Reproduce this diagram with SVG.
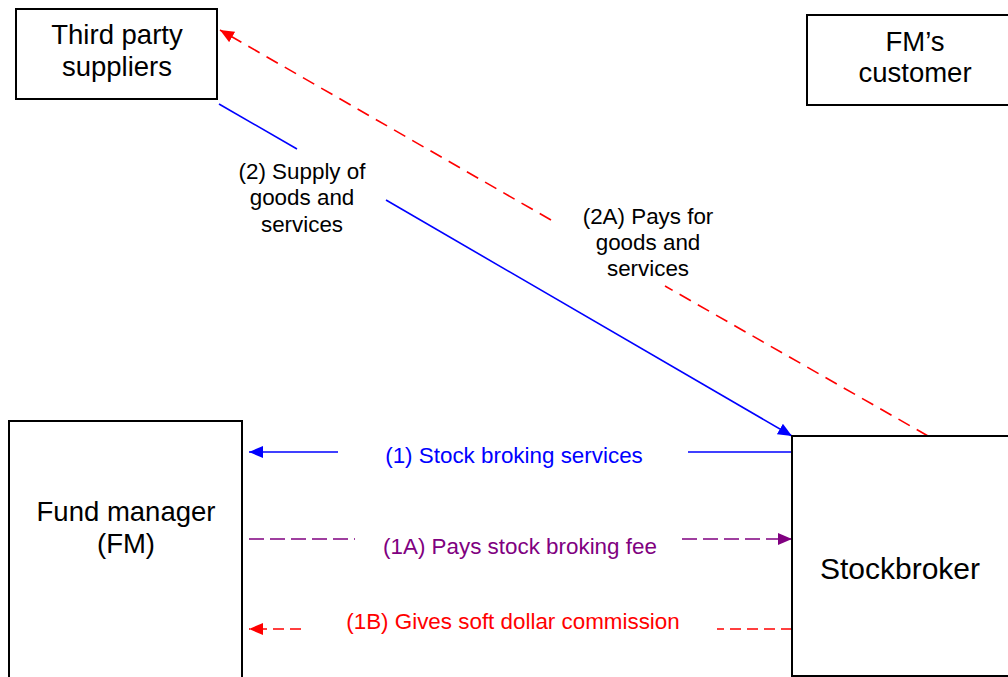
<svg xmlns="http://www.w3.org/2000/svg" width="1008" height="677" viewBox="0 0 1008 677">
  <style>
    .box { fill: #fff; stroke: #000; stroke-width: 2; }
    .nt { font-family: "Liberation Sans", Arial, sans-serif; font-size: 27.5px; fill: #000; text-anchor: middle; }
    .lbl { font-family: "Liberation Sans", Arial, sans-serif; font-size: 22.4px; text-anchor: middle; }
    .blue { stroke: #0000ff; stroke-width: 1.6; fill: none; }
    .purple { stroke: #800080; stroke-width: 1.6; fill: none; stroke-dasharray: 15 6; }
    .red { stroke: #ff0000; stroke-width: 1.6; fill: none; stroke-dasharray: 13 8; }
    .redh { stroke: #ff0000; stroke-width: 1.6; fill: none; stroke-dasharray: 11 6; }
  </style>
  <defs>
    <marker id="ahBlue" viewBox="0 0 10 10" refX="10" refY="5" markerWidth="14" markerHeight="12" markerUnits="userSpaceOnUse" orient="auto" preserveAspectRatio="none">
      <path d="M0,0 L10,5 L0,10 z" fill="#0000ff"/>
    </marker>
    <marker id="ahPurple" viewBox="0 0 10 10" refX="10" refY="5" markerWidth="14" markerHeight="12" markerUnits="userSpaceOnUse" orient="auto" preserveAspectRatio="none">
      <path d="M0,0 L10,5 L0,10 z" fill="#800080"/>
    </marker>
    <marker id="ahRed" viewBox="0 0 10 10" refX="10" refY="5" markerWidth="14" markerHeight="12" markerUnits="userSpaceOnUse" orient="auto" preserveAspectRatio="none">
      <path d="M0,0 L10,5 L0,10 z" fill="#ff0000"/>
    </marker>
  </defs>

  <rect width="1008" height="677" fill="#fff"/>

  <!-- connectors -->
  <g id="connectors">
    <!-- (2) supply of goods and services -->
    <line class="blue" x1="219" y1="104" x2="297" y2="149"/>
    <line class="blue" x1="386" y1="200" x2="792" y2="436" marker-end="url(#ahBlue)"/>
    <!-- (2A) pays for goods and services -->
    <line class="red" x1="551" y1="220" x2="220" y2="30" marker-end="url(#ahRed)"/>
    <line class="red" x1="928" y1="436" x2="665" y2="286"/>
    <!-- (1) stock broking services -->
    <line class="blue" x1="338" y1="452" x2="249" y2="452" marker-end="url(#ahBlue)"/>
    <line class="blue" x1="688" y1="452" x2="792" y2="452"/>
    <!-- (1A) pays stock broking fee -->
    <line class="purple" x1="249" y1="539" x2="355" y2="539"/>
    <line class="purple" x1="682" y1="539" x2="792" y2="539" marker-end="url(#ahPurple)"/>
    <!-- (1B) gives soft dollar commission -->
    <line class="redh" x1="301" y1="629" x2="249" y2="629" marker-end="url(#ahRed)"/>
    <line class="redh" x1="792" y1="629" x2="717" y2="629"/>

    <text class="lbl" x="302" y="179" fill="#000">(2) Supply of</text>
    <text class="lbl" x="302" y="205" fill="#000">goods and</text>
    <text class="lbl" x="302" y="232" fill="#000">services</text>

    <text class="lbl" x="648" y="224" fill="#000">(2A) Pays for</text>
    <text class="lbl" x="648" y="250" fill="#000">goods and</text>
    <text class="lbl" x="648" y="276" fill="#000">services</text>

    <text class="lbl" x="514" y="463" fill="#0000ff">(1) Stock broking services</text>
    <text class="lbl" x="520" y="554" fill="#800080">(1A) Pays stock broking fee</text>
    <text class="lbl" x="513" y="629" fill="#ff0000">(1B) Gives soft dollar commission</text>
  </g>

  <g id="third-party">
    <rect class="box" x="16" y="9" width="201" height="90"/>
    <text class="nt" x="117" y="44">Third party</text>
    <text class="nt" x="117" y="76">suppliers</text>
  </g>

  <g id="fm-customer">
    <rect class="box" x="807" y="15" width="210" height="90"/>
    <text class="nt" x="915" y="51">FM’s</text>
    <text class="nt" x="915" y="82">customer</text>
  </g>

  <g id="fund-manager">
    <rect class="box" x="9" y="421" width="233" height="270"/>
    <text class="nt" x="126" y="521">Fund manager</text>
    <text class="nt" x="126" y="553">(FM)</text>
  </g>

  <g id="stockbroker">
    <rect class="box" x="792" y="436" width="230" height="240"/>
    <text class="nt" x="900" y="579" style="font-size:30px">Stockbroker</text>
  </g>
</svg>
